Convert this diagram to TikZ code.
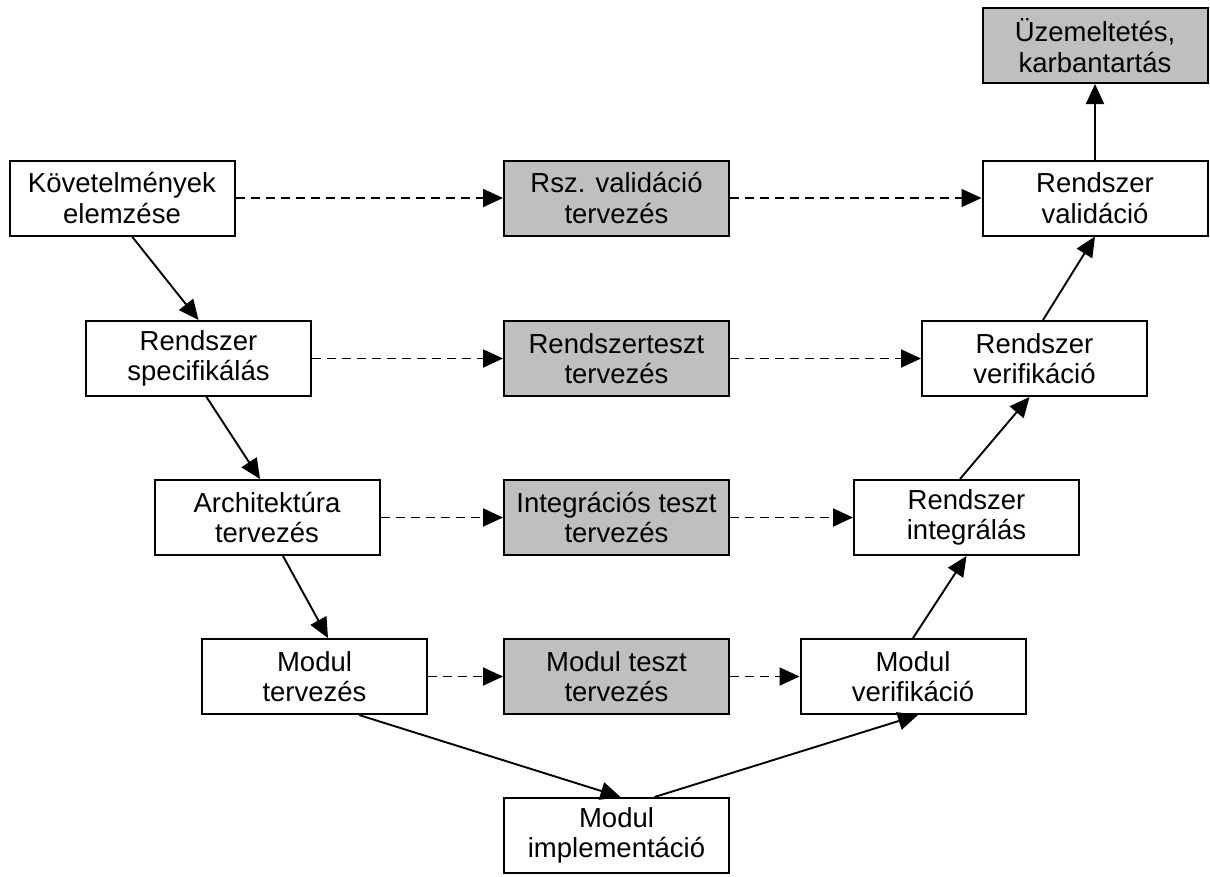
\documentclass[tikz,border=0pt]{standalone}
\usepackage{fontspec}
\setmainfont{Liberation Sans}
\usetikzlibrary{arrows.meta}

\begin{document}
\begin{tikzpicture}[x=1pt,y=1pt,
  stage/.style={draw=black, line width=2pt, fill=white, rectangle,
    minimum width=225pt, minimum height=75pt, inner sep=0pt,
    align=center, font=\fontsize{27.5}{30.5}\selectfont},
  teststage/.style={stage, fill=gray!50},
  flow/.style={line width=1.9pt, -{Triangle[length=20pt,width=18pt]}},
  plan/.style={flow, dash pattern=on 9pt off 6pt}
]
\useasboundingbox (0,0) rectangle (1210,-876);

% left branch: specification and design
\node[stage] (kov)  at (122,-198)   {Követelmények\\elemzése};
\node[stage] (spec) at (198.5,-358.5) {Rendszer\\specifikálás};
\node[stage] (arch) at (267,-517.5) {Architektúra\\tervezés};
\node[stage] (mt)   at (314.5,-676.5) {Modul\\tervezés};

% middle column: test planning
\node[teststage] (rszv) at (616.5,-198)   {Rsz. validáció\\tervezés};
\node[teststage] (rtt)  at (616.5,-358.5) {Rendszerteszt\\tervezés};
\node[teststage] (itt)  at (616.5,-517.5) {Integrációs teszt\\tervezés};
\node[teststage] (mtt)  at (616.5,-676.5) {Modul teszt\\tervezés};

% bottom: implementation
\node[stage] (mimp) at (616.5,-835.5) {Modul\\implementáció};

% right branch: integration and verification
\node[stage] (mver) at (913,-676.5)  {Modul\\verifikáció};
\node[stage] (rint) at (966.5,-517.5) {Rendszer\\integrálás};
\node[stage] (rver) at (1034.5,-358.5) {Rendszer\\verifikáció};
\node[stage] (rval) at (1095,-198)   {Rendszer\\validáció};
\node[teststage] (uz) at (1095,-45.5) {Üzemeltetés,\\karbantartás};

% descending branch
\draw[flow] ([xshift=10pt]kov.south) -- (spec.north);
\draw[flow] ([xshift=8pt]spec.south) -- ([xshift=-7pt]arch.north);
\draw[flow] ([xshift=16pt]arch.south) -- ([xshift=13.5pt]mt.north);
\draw[flow] ([xshift=44.5pt]mt.south) -- ([xshift=4pt]mimp.north);

% ascending branch
\draw[flow] ([xshift=38pt]mimp.north) -- ([xshift=5pt]mver.south);
\draw[flow] (mver.north) -- (rint.south);
\draw[flow] ([xshift=-6.5pt]rint.north) -- ([xshift=-5pt]rver.south);
\draw[flow] ([xshift=8.5pt]rver.north) -- (rval.south);
\draw[flow] (rval.north) -- (uz.south);

% test planning links
\draw[plan] (kov.east) -- (rszv.west);
\draw[plan] (rszv.east) -- (rval.west);
\draw[plan] (spec.east) -- (rtt.west);
\draw[plan] (rtt.east) -- (rver.west);
\draw[plan] (arch.east) -- (itt.west);
\draw[plan] (itt.east) -- (rint.west);
\draw[plan] (mt.east) -- (mtt.west);
\draw[plan] (mtt.east) -- (mver.west);
\end{tikzpicture}
\end{document}
